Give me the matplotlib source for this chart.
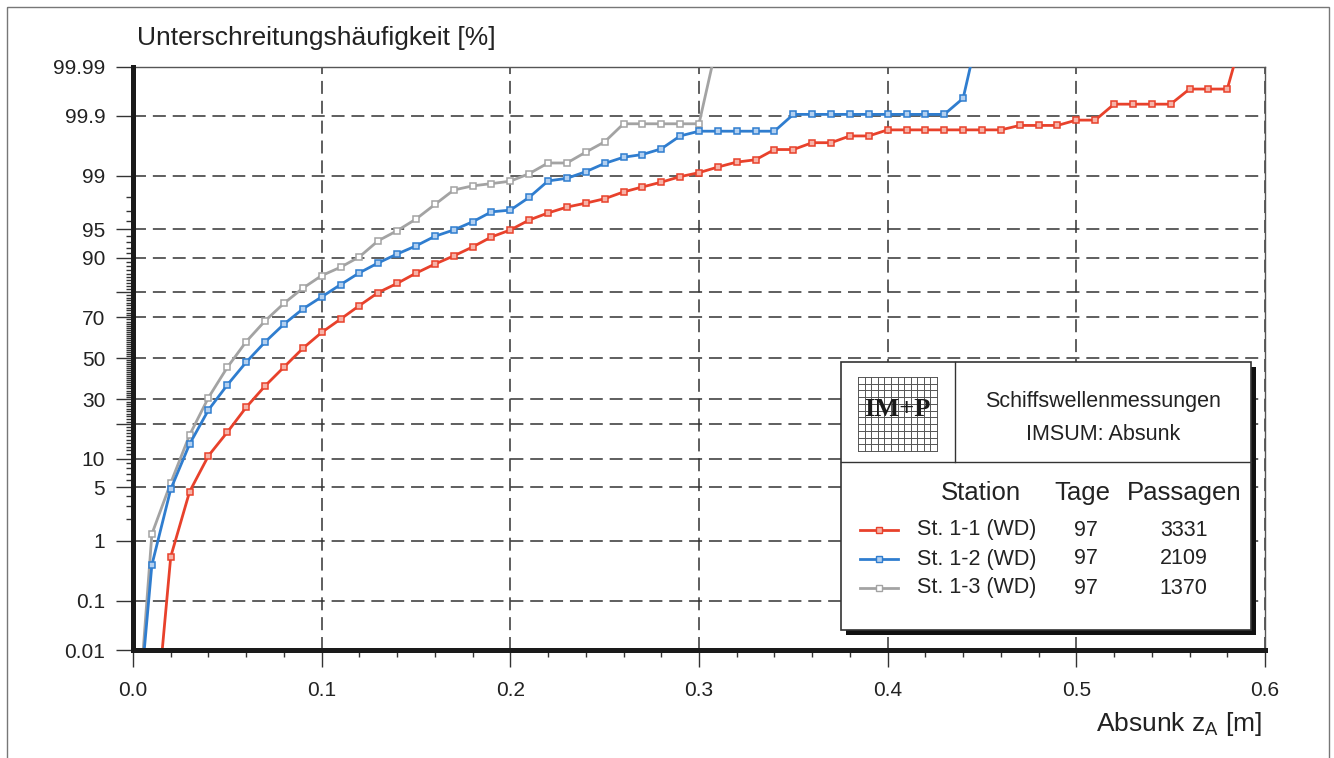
import math
from statistics import NormalDist

import numpy as np
import matplotlib
matplotlib.use("Agg")
import matplotlib.pyplot as plt
from matplotlib.patches import Rectangle
from matplotlib.lines import Line2D
from matplotlib.ticker import FixedLocator, MultipleLocator

plt.rcParams['font.family'] = ['Liberation Sans', 'DejaVu Sans']

# Absunk classes [m]
depth_red = [0.01, 0.02, 0.03, 0.04, 0.05, 0.06, 0.07, 0.08, 0.09, 0.10,
             0.11, 0.12, 0.13, 0.14, 0.15, 0.16, 0.17, 0.18, 0.19, 0.20,
             0.21, 0.22, 0.23, 0.24, 0.25, 0.26, 0.27, 0.28, 0.29, 0.30,
             0.31, 0.32, 0.33, 0.34, 0.35, 0.36, 0.37, 0.38, 0.39, 0.40,
             0.41, 0.42, 0.43, 0.44, 0.45, 0.46, 0.47, 0.48, 0.49, 0.50,
             0.51, 0.52, 0.53, 0.54, 0.55, 0.56, 0.57, 0.58, 0.59]
depth_blue = [0.00, 0.01, 0.02, 0.03, 0.04, 0.05, 0.06, 0.07, 0.08, 0.09,
              0.10, 0.11, 0.12, 0.13, 0.14, 0.15, 0.16, 0.17, 0.18, 0.19,
              0.20, 0.21, 0.22, 0.23, 0.24, 0.25, 0.26, 0.27, 0.28, 0.29,
              0.30, 0.31, 0.32, 0.33, 0.34, 0.35, 0.36, 0.37, 0.38, 0.39,
              0.40, 0.41, 0.42, 0.43, 0.44, 0.45]
depth_gray = [0.00, 0.01, 0.02, 0.03, 0.04, 0.05, 0.06, 0.07, 0.08, 0.09,
              0.10, 0.11, 0.12, 0.13, 0.14, 0.15, 0.16, 0.17, 0.18, 0.19,
              0.20, 0.21, 0.22, 0.23, 0.24, 0.25, 0.26, 0.27, 0.28, 0.29,
              0.30, 0.31]

# Unterschreitungshaeufigkeit [%]
p_red = [1.2e-5, 0.57, 4.45, 10.7, 17.3, 26.6, 36.2, 45.5, 55.0, 62.9,
         69.1, 74.9, 79.9, 83.0, 86.1, 88.5, 90.4, 92.2, 93.9, 94.9,
         96.1, 96.8, 97.3, 97.6, 97.9, 98.3, 98.55, 98.76, 98.97, 99.10,
         99.26, 99.38, 99.43, 99.61, 99.61, 99.70, 99.70, 99.77, 99.77, 99.82,
         99.82, 99.82, 99.82, 99.82, 99.82, 99.82, 99.85, 99.85, 99.85, 99.88,
         99.88, 99.94, 99.94, 99.94, 99.94, 99.97, 99.97, 99.97, 99.9991]
p_blue = [5.2e-6, 0.42, 4.75, 13.7, 25.5, 36.7, 48.0, 58.2, 66.8, 73.5,
          78.3, 82.6, 86.2, 88.8, 90.8, 92.4, 94.0, 94.9, 95.9, 96.9,
          97.05, 97.99, 98.81, 98.91, 99.13, 99.35, 99.48, 99.53, 99.62, 99.77,
          99.81, 99.81, 99.81, 99.81, 99.81, 99.906, 99.906, 99.906, 99.906, 99.906,
          99.906, 99.906, 99.906, 99.906, 99.954, 99.99936]
p_gray = [2.4e-6, 1.25, 5.6, 16.4, 30.8, 45.4, 58.4, 68.3, 75.8, 81.4,
          85.4, 87.7, 90.2, 93.3, 94.8, 96.2, 97.5, 98.4, 98.6, 98.7,
          98.8, 99.07, 99.36, 99.36, 99.57, 99.71, 99.86, 99.86, 99.86, 99.86,
          99.86, 99.9975]

stations = ['St. 1-1 (WD)', 'St. 1-2 (WD)', 'St. 1-3 (WD)']
tage = ['97', '97', '97']
passagen = ['3331', '2109', '1370']
colors = ['#e8412b', '#2f7dcf', '#a3a3a3']
face_colors = ['#f6b3a8', '#b3d0f0', '#ffffff']

y_ticks = [0.01, 0.1, 1, 5, 10, 20, 30, 50, 70, 80, 90, 95, 99, 99.9, 99.99]
y_labels = ['0.01', '0.1', '1', '5', '10', '', '30', '50', '70', '', '90',
            '95', '99', '99.9', '99.99']
x_ticks = [0.0, 0.1, 0.2, 0.3, 0.4, 0.5, 0.6]
x_labels = ['0.0', '0.1', '0.2', '0.3', '0.4', '0.5', '0.6']

# normal probability scale for the y axis
_nd = NormalDist()
_ppf = np.vectorize(_nd.inv_cdf, otypes=[float])
_erf = np.vectorize(math.erf, otypes=[float])


def prob_fwd(p):
    q = np.clip(np.asarray(p, dtype=float) / 100.0, 1e-15, 1 - 1e-15)
    return _ppf(q)


def prob_inv(z):
    return 50.0 * (1.0 + _erf(np.asarray(z, dtype=float) / math.sqrt(2)))


W, H = 1334, 758
fig = plt.figure(figsize=(W / 100, H / 100), dpi=100)
ax = fig.add_axes([133 / W, 1 - 650 / H, (1265 - 133) / W, (650 - 66.5) / H])
ax.set_yscale('function', functions=(prob_fwd, prob_inv))

line_kw = dict(lw=2.0, marker='s', ms=4.6, mew=1.1, zorder=3)
ax.plot(depth_gray, p_gray, color=colors[2], mfc=face_colors[2], **line_kw)
ax.plot(depth_blue, p_blue, color=colors[1], mfc=face_colors[1], **line_kw)
ax.plot(depth_red, p_red, color=colors[0], mfc=face_colors[0], **line_kw)

ax.set_xlim(0, 0.6)
ax.set_ylim(0.01, 99.99)
ax.set_xticks(x_ticks)
ax.set_xticklabels(x_labels)
ax.xaxis.set_minor_locator(MultipleLocator(0.02))
ax.yaxis.set_major_locator(FixedLocator(y_ticks))
ax.set_yticklabels(y_labels)
minor_y = [v for v in range(1, 100) if v not in y_ticks]
ax.yaxis.set_minor_locator(FixedLocator(minor_y))
ax.yaxis.set_minor_formatter(plt.NullFormatter())

ax.tick_params(which='major', length=12, width=1, color='#333333',
               labelsize=15, labelcolor='#222222')
ax.tick_params(axis='y', which='major', pad=8)
ax.tick_params(axis='x', which='major', pad=10)
ax.tick_params(which='minor', length=5, width=1, color='#333333')

ax.grid(True, which='major', color='#333333', lw=1.1, ls=(0, (8.5, 4.5)))

for side in ['left', 'bottom']:
    ax.spines[side].set_linewidth(3.6)
    ax.spines[side].set_color('#1a1a1a')
    ax.spines[side].set_zorder(4)
for side in ['top', 'right']:
    ax.spines[side].set_linewidth(1.0)
    ax.spines[side].set_color('#555555')

fig.text(137 / W, 1 - 45 / H, 'Unterschreitungshäufigkeit [%]',
         fontsize=19, color='#222222', va='baseline', ha='left')
fig.text(1262 / W, 1 - 731 / H, r'Absunk z$_\mathregular{A}$ [m]',
         fontsize=19, color='#222222', va='baseline', ha='right')

# overlay in pixel units: frame and info box
ov = fig.add_axes([0, 0, 1, 1], zorder=5)
ov.set_xlim(0, W)
ov.set_ylim(H, 0)
ov.axis('off')

ov.add_patch(Rectangle((7, 7), 1322, 800, fill=False, ec='#777777', lw=1.0))

bx, by, bw, bh = 841, 362, 410, 268
ov.add_patch(Rectangle((bx + 5, by + 5), bw, bh, fc='#111111', ec='none'))
ov.add_patch(Rectangle((bx, by), bw, bh, fc='white', ec='#333333', lw=1.2))
ov.plot([955, 955], [by, 462], color='#333333', lw=1.0)
ov.plot([bx, bx + bw], [462, 462], color='#333333', lw=1.0)

# IM+P logo
for gx in np.linspace(858, 937, 13):
    ov.plot([gx, gx], [377, 451], color='#555555', lw=0.7)
for gy in np.linspace(377, 451, 12):
    ov.plot([858, 937], [gy, gy], color='#555555', lw=0.7)
ov.text(897.5, 409, 'IM+P', family=['Liberation Serif', 'DejaVu Serif'],
        fontweight='bold', fontsize=19, color='#1a1a1a', ha='center', va='center')

ov.text(1103, 402, 'Schiffswellenmessungen', fontsize=15.5, color='#222222',
        ha='center', va='center')
ov.text(1103, 434, 'IMSUM: Absunk', fontsize=15.5, color='#222222',
        ha='center', va='center')

ov.text(981, 500, 'Station', fontsize=18.5, color='#222222', ha='center', va='baseline')
ov.text(1082, 500, 'Tage', fontsize=18.5, color='#222222', ha='center', va='baseline')
ov.text(1184.5, 500, 'Passagen', fontsize=18.5, color='#222222', ha='center', va='baseline')

for i, row_y in enumerate([530, 559, 588]):
    ov.add_line(Line2D([860, 898], [row_y, row_y], color=colors[i], lw=2.0))
    ov.add_line(Line2D([879], [row_y], color=colors[i], marker='s', ms=4.0,
                       mfc=face_colors[i], mew=1.0))
    ov.text(917, row_y, stations[i], fontsize=15.5, color='#222222',
            ha='left', va='center')
    ov.text(1086, row_y, tage[i], fontsize=15.5, color='#222222',
            ha='center', va='center')
    ov.text(1183.5, row_y, passagen[i], fontsize=15.5, color='#222222',
            ha='center', va='center')

fig.savefig('out.png', dpi=100)
